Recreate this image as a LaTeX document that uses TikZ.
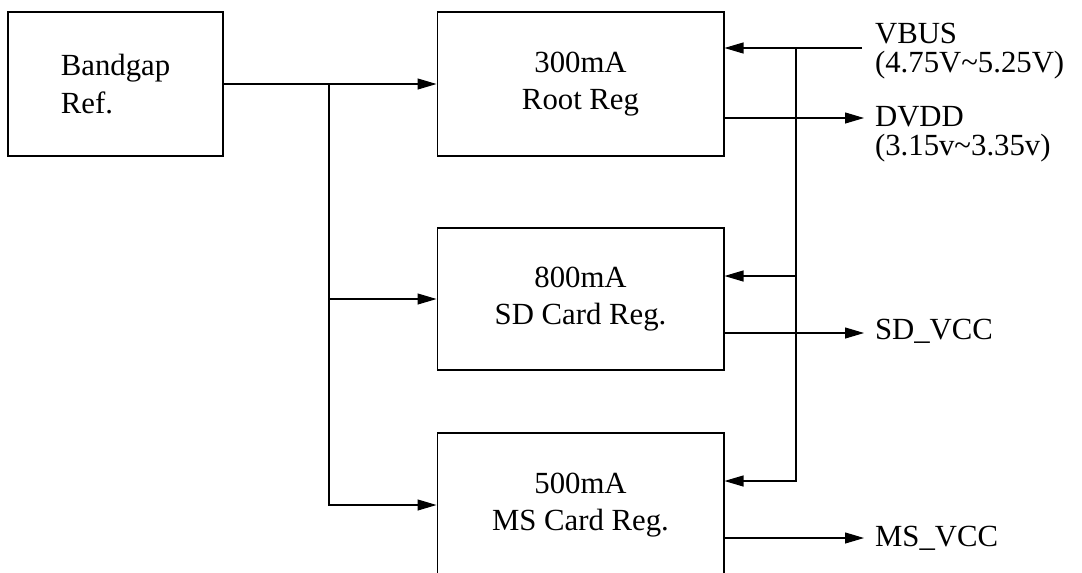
\documentclass[tikz,border=0pt]{standalone}
\usepackage{fontspec}
\setmainfont{Liberation Serif}
\usetikzlibrary{arrows.meta,calc}

\begin{document}
\begin{tikzpicture}[x=0.02cm,y=-0.02cm,>={Triangle[length=0.38cm,width=0.22cm]},line width=0.6pt,
  every node/.style={font=\fontsize{17.5}{21.5}\selectfont},
  regbox/.style={draw,align=center,minimum width=5.74cm,minimum height=2.88cm,inner sep=0pt},
  lbl/.style={anchor=west,align=left,inner xsep=6pt,inner ysep=0pt,font=\fontsize{17.5}{16.5}\selectfont}]
  \clip (0,0) rectangle (1082,572);
  \node[draw,align=left,minimum width=4.3cm,minimum height=2.88cm] (bg) at (115.5,84) {Bandgap\\Ref.};
  \node[regbox] (root) at (580.5,84) {300mA\\Root Reg};
  \node[regbox,minimum height=2.84cm] (sd) at (580.5,299) {800mA\\SD Card Reg.};
  \node[regbox] (ms) at (580.5,505) {500mA\\MS Card Reg.};
  \node[lbl] (vbus) at (864,51) {VBUS\\(4.75V\textasciitilde5.25V)};
  \node[lbl] (dvdd) at (864,134) {DVDD\\(3.15v\textasciitilde3.35v)};
  \node[lbl] (sdvcc) at (864,331) {SD\_VCC};
  \node[lbl] (msvcc) at (864,538) {MS\_VCC};
  \coordinate (jl) at (329,84);
  \coordinate (vin) at (862,48);
  \coordinate (jr) at (796,48);
  \coordinate (rootout) at ($(root.east)+(0,34)$);
  \coordinate (sdout) at ($(sd.east)+(0,34)$);
  \coordinate (msout) at ($(ms.east)+(0,33)$);
  \draw[->] (bg.east) -- (root.west);
  \draw[->] (jl) |- (sd.west);
  \draw[->] (jl) |- (ms.west);
  \draw[->] (vin) -- (vin -| root.east);
  \draw[->] (jr) |- ($(sd.east)+(0,-23)$);
  \draw[->] (jr) |- ($(ms.east)+(0,-24)$);
  \draw[->] (rootout) -- (rootout -| dvdd.west);
  \draw[->] (sdout) -- (sdout -| sdvcc.west);
  \draw[->] (msout) -- (msout -| msvcc.west);
\end{tikzpicture}
\end{document}
